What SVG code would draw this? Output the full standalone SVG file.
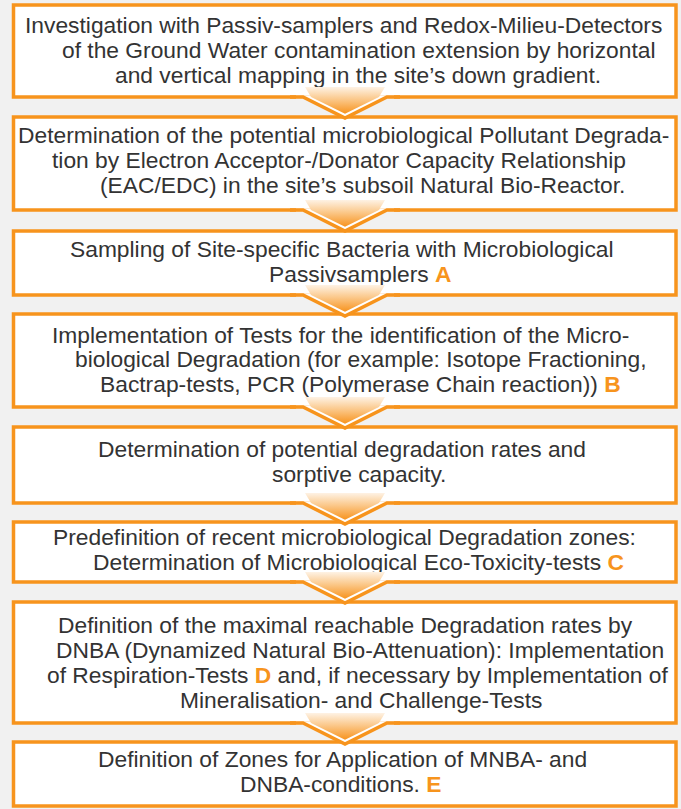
<svg xmlns="http://www.w3.org/2000/svg" width="681" height="809" viewBox="0 0 681 809">
<style>
.box{fill:#ffffff;stroke:#f7941d;stroke-width:3.5}
.t{font-family:"Liberation Sans",Arial,Helvetica,sans-serif;font-size:22.8px;fill:#333333}
.k{font-weight:bold;fill:#f7941d}
.v{fill:none;stroke:#f7941d;stroke-width:3.5;stroke-linejoin:miter}
.w{fill:#ffffff}
.g{fill:url(#grad)}
</style>
<defs>
<linearGradient id="grad" x1="0" y1="0" x2="0" y2="1">
<stop offset="0" stop-color="#fef2e4"/>
<stop offset="0.45" stop-color="#fbc98c"/>
<stop offset="1" stop-color="#f7931e"/>
</linearGradient>
</defs>
<rect width="681" height="809" fill="#f1f1f1"/>

<g id="n1">
<rect class="box" x="13.5" y="5" width="662.5" height="92"/>
<text class="t" x="25" y="33">Investigation with Passiv-samplers and Redox-Milieu-Detectors</text>
<text class="t" x="62" y="58">of the Ground Water contamination extension by horizontal</text>
<text class="t" x="115" y="83">and vertical mapping in the site’s down gradient.</text>
</g>
<g id="n2">
<rect class="box" x="13.5" y="117" width="662.5" height="93"/>
<text class="t" x="18" y="143">Determination of the potential microbiological Pollutant Degrada-</text>
<text class="t" x="52" y="168">tion by Electron Acceptor-/Donator Capacity Relationship</text>
<text class="t" x="100" y="193">(EAC/EDC) in the site’s subsoil Natural Bio-Reactor.</text>
</g>
<g id="n3">
<rect class="box" x="13.5" y="231" width="662.5" height="64"/>
<text class="t" x="70" y="257">Sampling of Site-specific Bacteria with Microbiological</text>
<text class="t" x="269" y="282">Passivsamplers <tspan class="k">A</tspan></text>
</g>
<g id="n4">
<rect class="box" x="13.5" y="314" width="662.5" height="93"/>
<text class="t" x="52" y="343">Implementation of Tests for the identification of the Micro-</text>
<text class="t" x="75" y="367">biological Degradation (for example: Isotope Fractioning,</text>
<text class="t" x="100" y="392">Bactrap-tests, PCR (Polymerase Chain reaction)) <tspan class="k">B</tspan></text>
</g>
<g id="n5">
<rect class="box" x="13.5" y="427" width="662.5" height="76"/>
<text class="t" x="98" y="457">Determination of potential degradation rates and</text>
<text class="t" x="272" y="482">sorptive capacity.</text>
</g>
<g id="n6">
<rect class="box" x="13.5" y="522" width="662.5" height="60"/>
<text class="t" x="53" y="545">Predefinition of recent microbiological Degradation zones:</text>
<text class="t" x="93" y="570">Determination of Microbiological Eco-Toxicity-tests <tspan class="k">C</tspan></text>
</g>
<g id="n7">
<rect class="box" x="13.5" y="602" width="662.5" height="121"/>
<text class="t" x="58" y="633">Definition of the maximal reachable Degradation rates by</text>
<text class="t" x="56" y="658">DNBA (Dynamized Natural Bio-Attenuation): Implementation</text>
<text class="t" x="47" y="683">of Respiration-Tests <tspan class="k">D</tspan> and, if necessary by Implementation of</text>
<text class="t" x="180" y="708">Mineralisation- and Challenge-Tests</text>
</g>
<g id="n8">
<rect class="box" x="13.5" y="742" width="662.5" height="64"/>
<text class="t" x="98" y="767">Definition of Zones for Application of MNBA- and</text>
<text class="t" x="240" y="792">DNBA-conditions. <tspan class="k">E</tspan></text>
</g>

<g id="connectors">
<g transform="translate(0,97)">
<rect class="w" x="296" y="-1.75" width="98" height="3.5"/><polygon class="w" points="303,0 345,21 387,0"/>
<polyline class="v" points="290,0 303,0 345,21 387,0 400,0"/>
<polygon class="g" points="305,-10 385,-10 379,0 345,16.8 311,0"/>
</g>
<g transform="translate(0,210)">
<rect class="w" x="296" y="-1.75" width="98" height="3.5"/><polygon class="w" points="303,0 345,21 387,0"/>
<polyline class="v" points="290,0 303,0 345,21 387,0 400,0"/>
<polygon class="g" points="305,-10 385,-10 379,0 345,16.8 311,0"/>
</g>
<g transform="translate(0,295)">
<rect class="w" x="296" y="-1.75" width="98" height="3.5"/><polygon class="w" points="303,0 345,21 387,0"/>
<polyline class="v" points="290,0 303,0 345,21 387,0 400,0"/>
<polygon class="g" points="305,-10 385,-10 379,0 345,16.8 311,0"/>
</g>
<g transform="translate(0,407)">
<rect class="w" x="296" y="-1.75" width="98" height="3.5"/><polygon class="w" points="303,0 345,21 387,0"/>
<polyline class="v" points="290,0 303,0 345,21 387,0 400,0"/>
<polygon class="g" points="305,-10 385,-10 379,0 345,16.8 311,0"/>
</g>
<g transform="translate(0,503)">
<rect class="w" x="296" y="-1.75" width="98" height="3.5"/><polygon class="w" points="303,0 345,21 387,0"/>
<polyline class="v" points="290,0 303,0 345,21 387,0 400,0"/>
<polygon class="g" points="305,-10 385,-10 379,0 345,16.8 311,0"/>
</g>
<g transform="translate(0,582)">
<rect class="w" x="296" y="-1.75" width="98" height="3.5"/><polygon class="w" points="303,0 345,21 387,0"/>
<polyline class="v" points="290,0 303,0 345,21 387,0 400,0"/>
<polygon class="g" points="305,-10 385,-10 379,0 345,16.8 311,0"/>
</g>
<g transform="translate(0,723)">
<rect class="w" x="296" y="-1.75" width="98" height="3.5"/><polygon class="w" points="303,0 345,21 387,0"/>
<polyline class="v" points="290,0 303,0 345,21 387,0 400,0"/>
<polygon class="g" points="305,-10 385,-10 379,0 345,16.8 311,0"/>
</g>
</g>
</svg>
